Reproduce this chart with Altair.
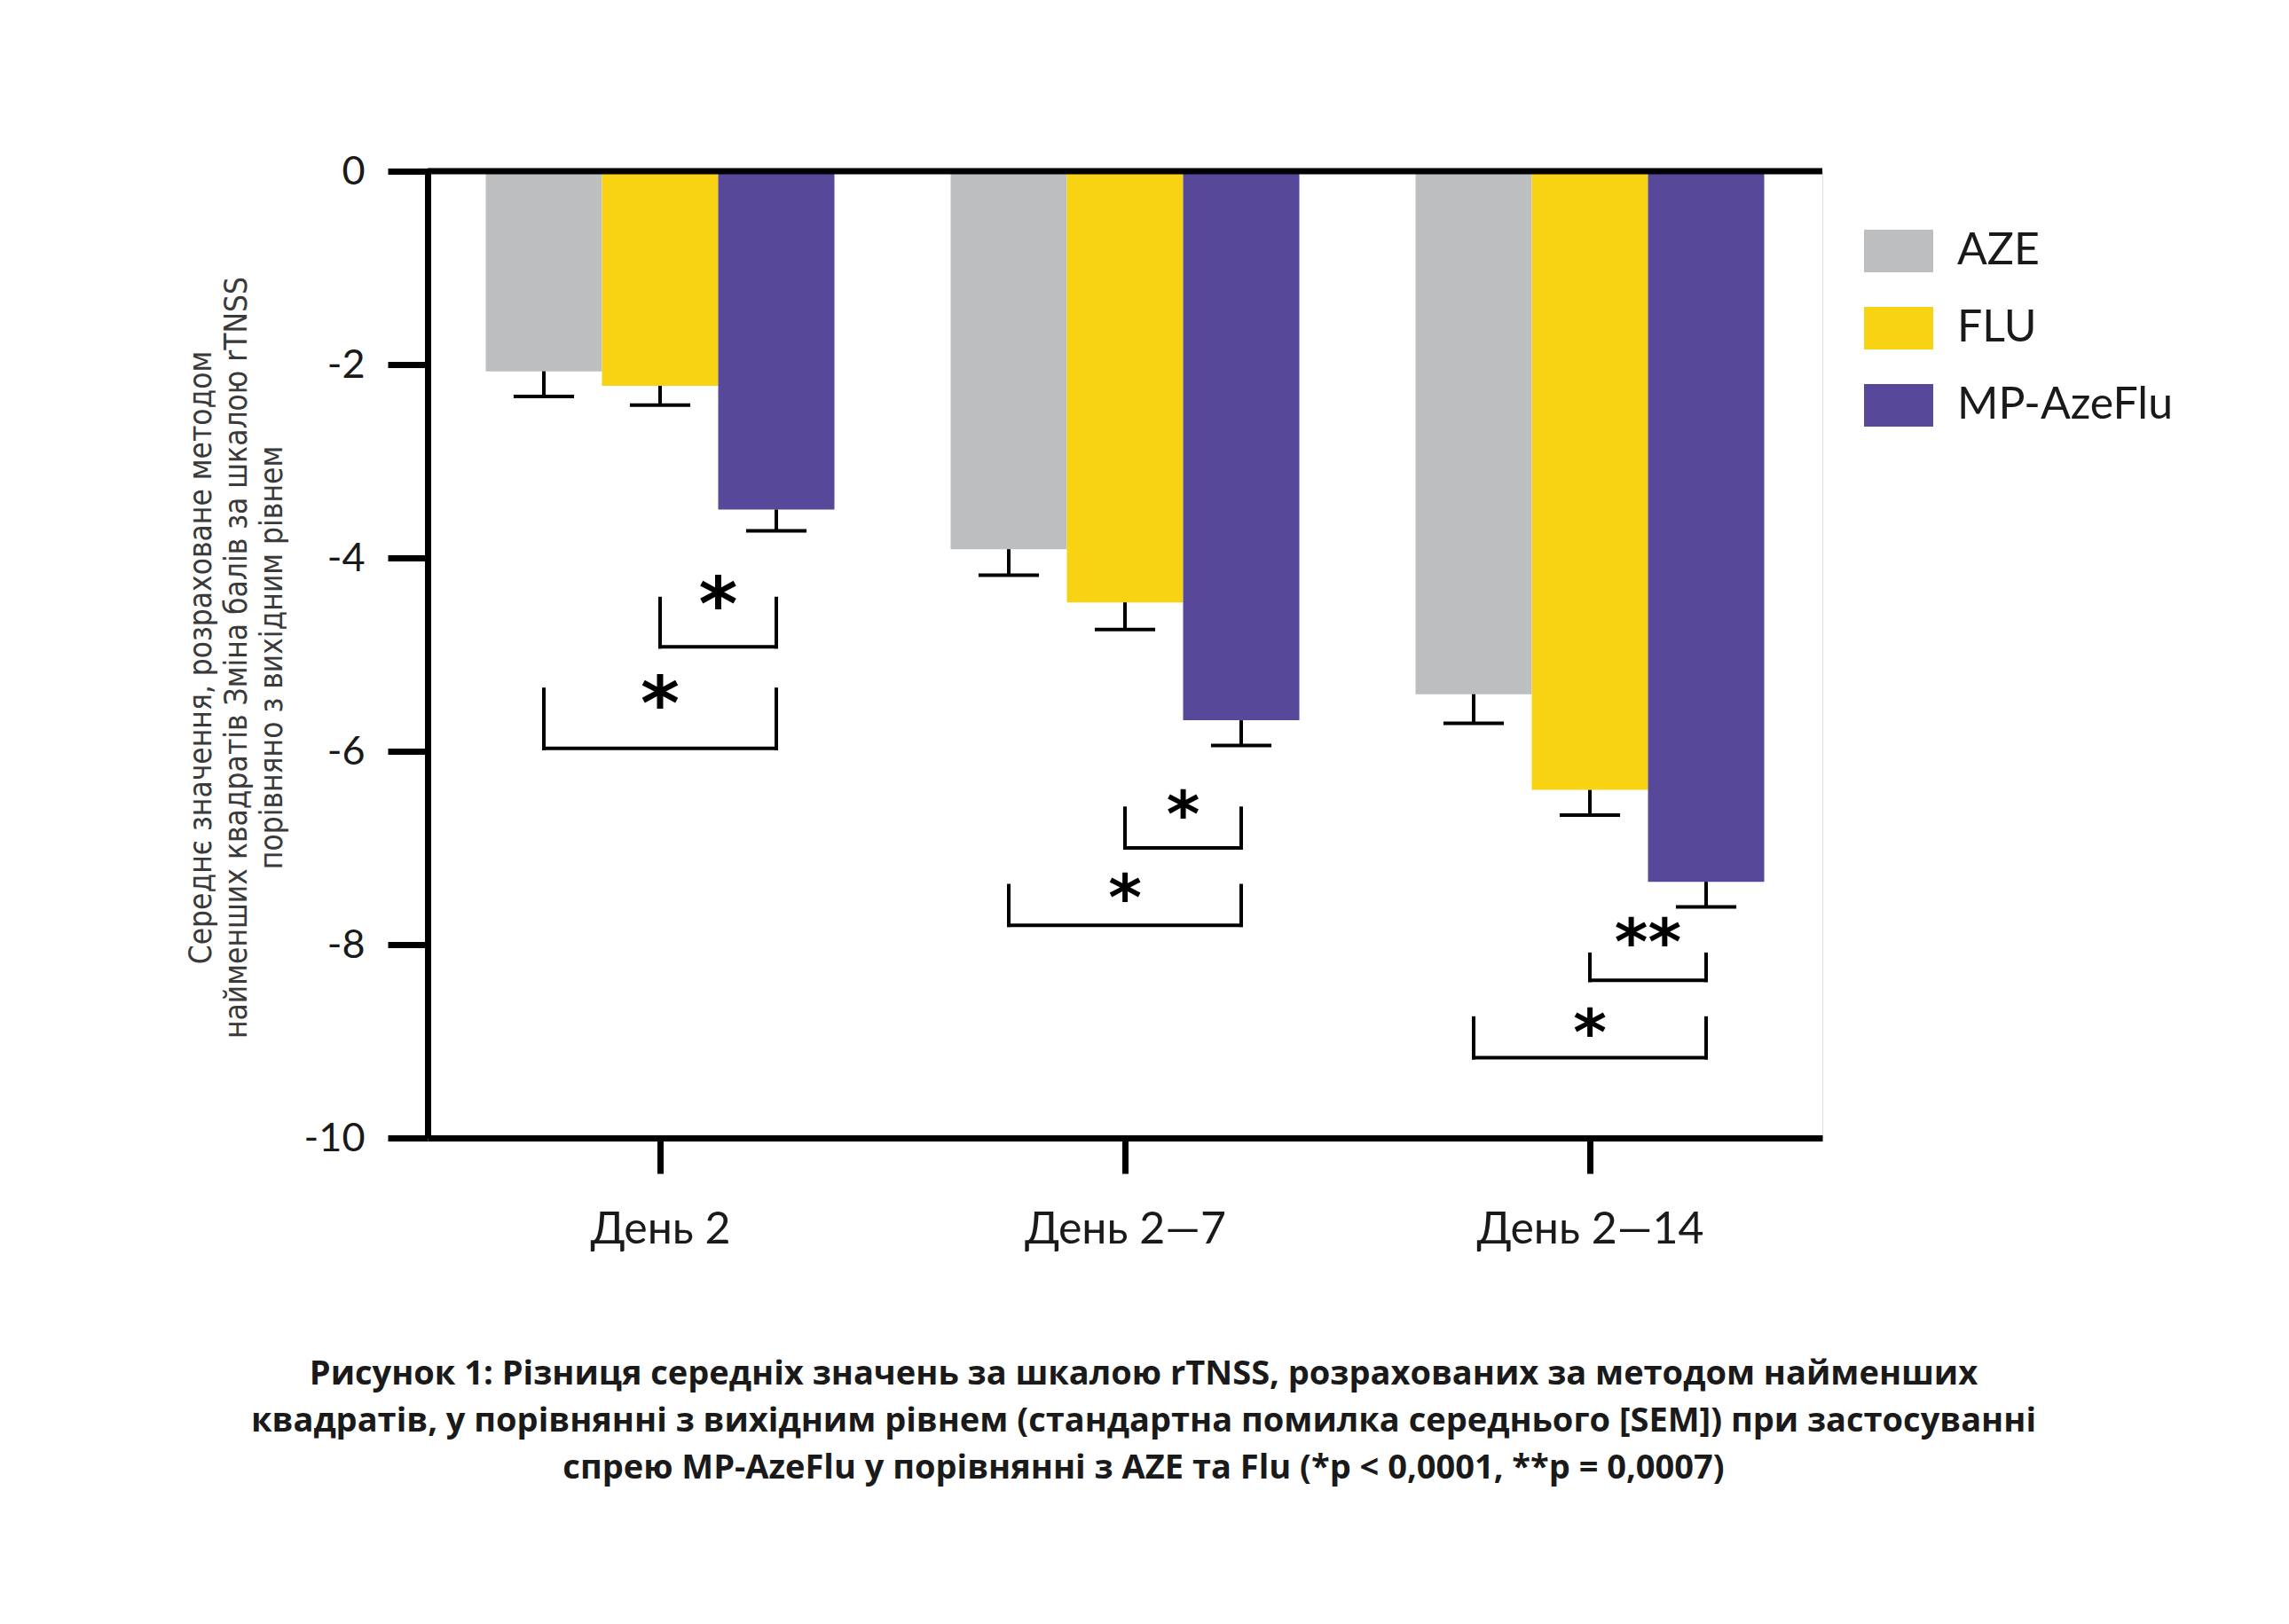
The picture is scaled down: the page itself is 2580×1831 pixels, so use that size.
import json

import altair as alt
import pandas as pd

days = ["День 2", "День 2—7", "День 2—14"]
groups = ["AZE", "FLU", "MP-AzeFlu"]
colors = ["#BDBEC0", "#F8D313", "#57489A"]

aze = [-2.07, -3.91, -5.41]
flu = [-2.22, -4.46, -6.40]
mp = [-3.50, -5.68, -7.35]
aze_sem = [0.26, 0.27, 0.30]
flu_sem = [0.20, 0.28, 0.26]
mp_sem = [0.22, 0.26, 0.26]

# significance brackets (one row per bracket)
sig_day = [0, 0, 1, 1, 2, 2]
sig_from = ["FLU", "AZE", "FLU", "AZE", "FLU", "AZE"]
sig_to = ["MP-AzeFlu"] * 6
sig_top = [-4.42, -5.36, -6.59, -7.39, -8.10, -8.76]
sig_bottom = [-4.92, -5.97, -7.00, -7.80, -8.37, -9.17]
sig_star = [-4.37, -5.39, -6.53, -7.39, -7.85, -8.79]
sig_label = ["*", "*", "*", "*", "**", "*"]

y_ticks = [0, -2, -4, -6, -8, -10]
y_title = [
    "Середнє значення, розраховане методом",
    "найменших квадратів Зміна балів за шкалою rTNSS",
    "порівняно з вихідним рівнем",
]
caption = [
    "Рисунок 1: Різниця середніх значень за шкалою rTNSS, розрахованих за методом найменших",
    "квадратів, у порівнянні з вихідним рівнем (стандартна помилка середнього [SEM]) при застосуванні",
    "спрею MP-AzeFlu у порівнянні з AZE та Flu (*p < 0,0001, **p = 0,0007)",
]


def pos(day, group):
    return day + 0.5 + (groups.index(group) - 1) * 0.25


rows = []
for g, vals, sems in [("AZE", aze, aze_sem), ("FLU", flu, flu_sem), ("MP-AzeFlu", mp, mp_sem)]:
    for d, (v, s) in enumerate(zip(vals, sems)):
        c = pos(d, g)
        rows.append(dict(day=d, group=g, value=v, base=0, lo=v - s,
                         xc=c, x0=c - 0.125, x1=c + 0.125, cap0=c - 0.065, cap1=c + 0.065))
bars_df = pd.DataFrame(rows)

sig_df = pd.DataFrame({
    "day": sig_day,
    "xa": [pos(d, g) for d, g in zip(sig_day, sig_from)],
    "xb": [pos(d, g) for d, g in zip(sig_day, sig_to)],
    "top": sig_top,
    "bottom": sig_bottom,
    "star": sig_star,
    "label": sig_label,
})
sig_df["xm"] = (sig_df["xa"] + sig_df["xb"]) / 2

xscale = alt.Scale(domain=[0, 3], nice=False, zero=False)
yscale = alt.Scale(domain=[-10, 0], nice=False, zero=False)

xaxis = alt.Axis(
    values=[0.5, 1.5, 2.5],
    labelExpr=f"{json.dumps(days, ensure_ascii=False)}[floor(datum.value)]",
    title=None, grid=False,
    domainColor="black", domainWidth=7,
    tickColor="black", tickWidth=7, tickSize=40,
    labelFont="Lato", labelFontSize=50, labelColor="#1a1a1a", labelPadding=38,
    labelLimit=0,
)
yaxis = alt.Axis(
    values=y_ticks,
    labelExpr="datum.value == 0 ? '0' : '-' + abs(datum.value)",
    title=y_title, titleAngle=270, titleX=-256, titleY=548,
    titleAlign="center", titleBaseline="middle", titleLineHeight=40,
    titleFont="DejaVu Sans Condensed, Liberation Sans, sans-serif",
    titleFontSize=35, titleFontWeight="normal",
    titleColor="#3a3a3a",
    grid=False,
    domainColor="black", domainWidth=7,
    tickColor="black", tickWidth=7, tickSize=45,
    labelFont="Lato", labelFontSize=45, labelColor="#1a1a1a", labelPadding=26,
)

base = alt.Chart(bars_df)

bars = base.mark_bar().encode(
    x=alt.X("x0:Q", scale=xscale, axis=xaxis),
    x2="x1:Q",
    y=alt.Y("value:Q", scale=yscale, axis=yaxis),
    y2="base:Q",
    color=alt.Color(
        "group:N",
        scale=alt.Scale(domain=groups, range=colors),
        legend=alt.Legend(
            title=None, orient="none", legendX=1619, legendY=51,
            symbolType="M-1,-0.615H1V0.615H-1Z", symbolSize=6084,
            symbolStrokeWidth=0, symbolOpacity=1,
            labelFont="Lato", labelFontSize=50, labelColor="#1a1a1a",
            labelOffset=27, rowPadding=23, padding=0, labelLimit=0,
        ),
    ),
)

err = base.mark_rule(color="black", strokeWidth=4).encode(
    x="xc:Q", y="value:Q", y2="lo:Q"
)
caps = base.mark_rule(color="black", strokeWidth=4).encode(
    x="cap0:Q", x2="cap1:Q", y="lo:Q"
)

zero_line = alt.Chart(pd.DataFrame({"z": [0]})).mark_rule(
    color="black", strokeWidth=7
).encode(y="z:Q")

sig = alt.Chart(sig_df)
br_bottom = sig.mark_rule(color="black", strokeWidth=4, strokeCap="square").encode(
    x="xa:Q", x2="xb:Q", y="bottom:Q"
)
br_left = sig.mark_rule(color="black", strokeWidth=4, strokeCap="square").encode(
    x="xa:Q", y="top:Q", y2="bottom:Q"
)
br_right = sig.mark_rule(color="black", strokeWidth=4, strokeCap="square").encode(
    x="xb:Q", y="top:Q", y2="bottom:Q"
)
stars = sig.mark_text(
    font="DejaVu Sans", fontWeight="bold", baseline="middle", align="center", dy=16,
    color="black",
).encode(
    x="xm:Q",
    y="star:Q",
    text="label:N",
    size=alt.condition("datum.day === 0", alt.value(84), alt.value(72)),
)

caption_text = alt.Chart(pd.DataFrame({"c": [0]})).mark_text(
    text=caption, font="Open Sans", fontWeight="bold", fontSize=38,
    lineHeight=53, align="center", baseline="middle", color="#1a1a1a",
).encode(x=alt.value(807), y=alt.value(1357))

chart = (
    alt.layer(bars, err, caps, zero_line, br_bottom, br_left, br_right, stars, caption_text)
    .properties(
        width=1572,
        height=1090,
        autosize=alt.AutoSizeParams(type="none"),
        padding={"left": 474, "top": 185, "right": 518, "bottom": 540},
    )
    .configure_view(stroke=None)
    .configure(background="white")
)

chart.save("out.html", embed_options={"renderer": "svg", "actions": False})
